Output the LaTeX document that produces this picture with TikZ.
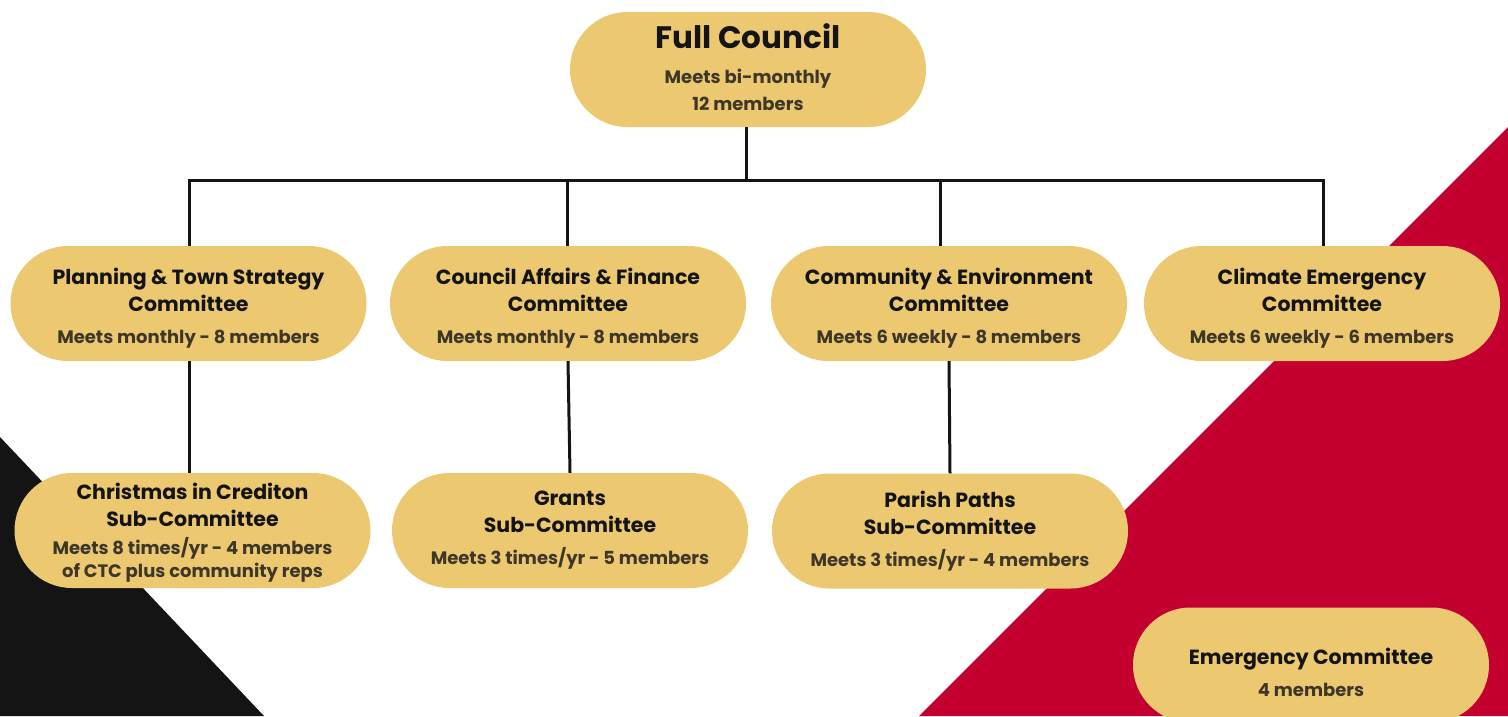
\documentclass[tikz,border=0pt]{standalone}
\usepackage{fontspec}
\setmainfont{Poppins}
\definecolor{gold}{RGB}{236,200,113}
\definecolor{crim}{RGB}{195,0,47}
\definecolor{ink}{RGB}{20,20,20}
\definecolor{subink}{RGB}{62,55,40}
\newcommand{\ttl}[1]{{\color{ink}\fontsize{20.5}{27}\selectfont #1}}
\newcommand{\sbt}[1]{{\color{subink}\fontsize{18}{27}\selectfont #1}}
\newcommand{\bigttl}[1]{{\color{ink}\fontsize{31}{27}\selectfont #1}}
\tikzset{
  pill/.style={fill=gold, draw=none, rectangle, rounded corners=57.5pt,
    minimum width=356pt, minimum height=115pt, inner sep=0pt},
  pilltext/.style={inner sep=0pt, align=center,
    font=\fontsize{18}{27}\selectfont\bfseries},
  wire/.style={draw=ink, line width=3pt}
}
\begin{document}
\begin{tikzpicture}[x=1pt,y=-1pt]
\useasboundingbox (0,0) rectangle (1508,716);
\fill[white] (0,0) rectangle (1508,716);
\fill[ink] (0,437) -- (264,716) -- (0,716) -- cycle;
\fill[crim] (919,716) -- (1508,127) -- (1508,716) -- cycle;

\node[pill] (fc) at (748,69.5) {};
\node[pilltext] (fct) at ([yshift=2pt]fc.center) {\bigttl{Full Council}\\[8pt]
  \sbt{Meets bi-monthly}\\\sbt{12 members}};

\node[pill] (pl) at (188.5,303.5) {};
\node[pilltext] (plt) at ([yshift=-5pt]pl.center) {\ttl{Planning \& Town Strategy}\\\ttl{Committee}\\[5pt]\sbt{Meets monthly - 8 members}};
\node[pill] (ca) at (568,303.5) {};
\node[pilltext] (cat) at ([yshift=-5pt]ca.center) {\ttl{Council Affairs \& Finance}\\\ttl{Committee}\\[5pt]\sbt{Meets monthly - 8 members}};
\node[pill] (ce) at (949,303.5) {};
\node[pilltext] (cet) at ([yshift=-5pt]ce.center) {\ttl{Community \& Environment}\\\ttl{Committee}\\[5pt]\sbt{Meets 6 weekly - 8 members}};
\node[pill] (cl) at (1322,303.5) {};
\node[pilltext] (clt) at ([yshift=-5pt]cl.center) {\ttl{Climate Emergency}\\\ttl{Committee}\\[5pt]\sbt{Meets 6 weekly - 6 members}};

\node[pill] (xm) at (192.5,530.5) {};
\node[pilltext] (xmt) at ([yshift=-2.5pt]xm.center) {\ttl{Christmas in Crediton}\\\ttl{Sub-Committee}\\[1pt]\sbt{Meets 8 times/yr - 4 members}\\[-4pt]\sbt{of CTC plus community reps}};
\node[pill] (gr) at (570,530.5) {};
\node[pilltext] (grt) at ([yshift=0.5pt]gr.center) {\ttl{Grants}\\\ttl{Sub-Committee}\\[5pt]\sbt{Meets 3 times/yr - 5 members}};
\node[pill] (pp) at (950,531) {};
\node[pilltext] (ppt) at (pp.center) {\ttl{Parish Paths}\\\ttl{Sub-Committee}\\[5pt]\sbt{Meets 3 times/yr - 4 members}};
\node[pill] (em) at (1311,665) {};
\node[pilltext] (emt) at ([yshift=-7.5pt]em.center) {\ttl{Emergency Committee}\\[5pt]\sbt{4 members}};

\coordinate (bus) at (746,180);
\draw[wire] (fc.south -| bus) -- (bus);
\draw[wire, line join=miter] (189,246) -- (189,180) -- (1323,180) -- (1323,246);
\draw[wire] (567,180) -- (567,246);
\draw[wire] (940,180) -- (940,246);
\draw[wire] (pl.south -| 189,0) -- (189,473);
\draw[wire] (ca.south) -- (gr.north);
\draw[wire] (ce.south) -- (pp.north);
\end{tikzpicture}
\end{document}
